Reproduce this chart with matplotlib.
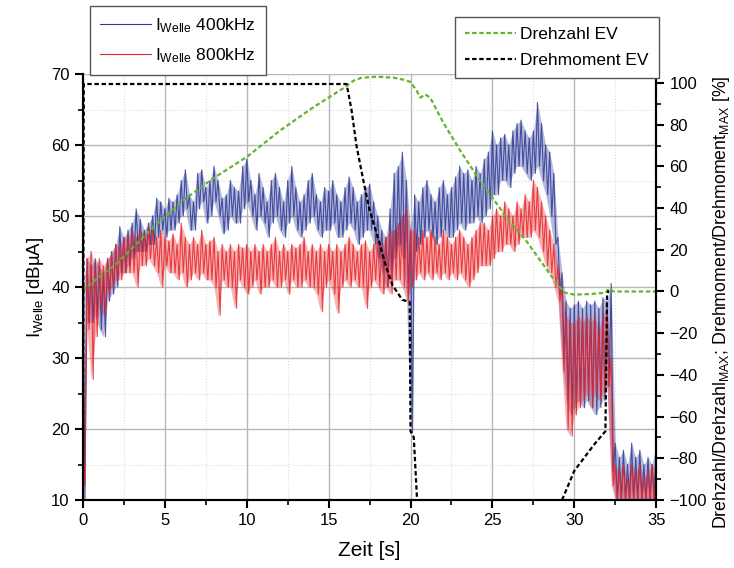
import matplotlib
matplotlib.use('Agg')
import numpy as np
import matplotlib.pyplot as plt
from matplotlib.ticker import MultipleLocator

plt.rcParams['font.family'] = ['Liberation Sans', 'DejaVu Sans']
plt.rcParams['mathtext.default'] = 'regular'

# time bins (s), each bin holds the min / max
t = np.arange(0, 35.01, 0.25)

# I_Welle 400kHz, per-bin max and min [dBuA]
blue_hi = [40, 44, 43, 44, 43, 42, 44, 45, 46, 48.5, 47, 48, 49, 51, 49.5, 48,
           49, 50, 52.5, 52, 51, 52.5, 52, 53, 55, 56.5, 53, 52, 56, 56.5, 54, 55,
           57, 55, 52.5, 53, 55, 54, 53.5, 57, 58, 55, 53, 56, 54, 52, 55, 56,
           54, 52, 55, 57, 54, 52, 53, 55, 56, 53, 52, 54, 53.5, 55, 53, 52,
           54, 55.5, 54, 52, 53, 54, 54.5, 52, 50, 48, 47, 51, 56, 57, 59, 55,
           48, 53, 52, 54, 55, 53, 52, 54, 55, 53, 54, 55.5, 57, 56, 56.5, 55,
           57, 56, 58, 59, 62, 60, 61, 61.5, 60, 62, 63, 63.5, 62, 61, 62, 66,
           63, 60, 59, 56, 47, 42, 38, 37, 37.5, 38, 37, 38, 37.5, 38, 37, 38.5,
           38, 40.5, 18, 16, 17, 15, 18, 16, 17, 15, 16, 15, 18]
blue_lo = [10, 35, 35, 36, 34, 33, 38, 39, 40, 42, 42, 43, 44, 45, 45, 45,
           46, 46, 47, 48, 47, 48, 48, 49, 50, 51, 48, 48, 51, 52, 49, 50,
           52, 50, 47.5, 48, 50, 49, 49, 51, 52, 50, 48, 50, 49, 47, 49, 50,
           48, 47, 49, 50, 48, 47, 48, 49, 50, 48, 47, 48, 48, 49, 47, 47,
           48, 49, 48, 46, 47, 48, 48, 46, 44, 42, 40, 41, 44, 46, 44, 39,
           19.5, 45, 46, 47, 48, 47, 46, 47, 48, 47, 47, 48, 49, 48, 49, 49,
           50, 49, 50, 51, 53, 53, 55, 55, 54, 56, 57, 57, 56, 55, 56, 57,
           55, 53, 50, 46, 39, 30, 24, 22, 23, 24, 23, 24, 23, 22, 23, 24,
           26, 14, 10, 10, 10, 10, 10, 10, 10, 10, 10, 10, 11]

# I_Welle 800kHz, per-bin max and min [dBuA]
red_hi = [17, 44, 45, 43, 44, 43, 44, 44.5, 46, 46, 47, 47, 48, 47, 48, 47.5,
          48.5, 48, 47, 48, 47, 46.5, 47.5, 46, 49, 47, 46, 47, 46, 48, 46, 46.5,
          47, 45, 46, 45, 46, 45, 46, 45.5, 46, 45, 46, 45, 46, 45, 46, 47,
          45, 46, 45, 46, 45.5, 46, 47, 45, 46, 45, 46, 45, 46, 45, 46, 45,
          46, 47, 46, 45, 46, 46.5, 45, 46, 47, 46, 47, 48, 48, 49, 50, 51,
          48, 48, 47, 48, 47, 48, 47, 46, 48, 47, 46, 47, 48, 47, 46, 47,
          48, 49, 49, 48, 50, 51, 50, 52, 51, 50, 52, 51, 53, 52, 55, 54,
          52, 50, 48, 46, 43, 40, 36, 35, 35, 36, 35, 36, 35, 36, 34, 36,
          37, 30, 15, 14, 15, 13, 15, 14, 15, 13, 14, 15, 14]
red_lo = [12, 34, 27, 33, 37, 36, 39, 40, 41, 41, 42, 42, 42, 40, 43, 43,
          44, 43, 42, 40, 43, 42, 42, 41, 42, 40, 41, 42, 41, 42, 41, 41,
          40, 36, 41, 40, 40, 37, 41, 40, 39, 40, 41, 39, 40, 40, 41, 40,
          40, 41, 39, 41, 40, 40, 41, 40, 40, 39, 36.5, 40, 41, 39, 36.3, 40,
          41, 40, 41, 40, 40, 37, 40, 41, 40, 39, 40, 39, 41, 41, 40, 38,
          40, 41, 42, 41, 42, 41, 42, 41, 42, 41, 42, 41, 42, 41, 40, 41,
          42, 43, 43, 43, 44, 45, 45, 46, 46, 45, 46, 47, 47, 47, 48, 47,
          45, 43, 42, 40, 38, 28, 20, 19, 22, 23, 24, 25, 23, 25, 24, 25,
          26, 12, 10, 10, 10, 10, 10, 10, 10, 10, 10, 10, 10]

# Drehzahl EV [%]
dz_t = [0, 0.5, 2, 4, 6, 8, 10, 12, 14, 16, 16.5, 17, 18, 19, 19.6, 20, 20.4,
        20.6, 20.9, 21.2, 22, 23, 24, 25, 26, 27, 28, 29, 29.4, 30, 31, 31.9,
        32.1, 32.4, 35]
dz_v = [0, 4, 13, 28.5, 43, 54.5, 64.5, 77, 88, 98, 101, 102.5, 103, 102.5,
        101.5, 100.5, 96, 93, 94.5, 93, 81, 68, 56, 45, 34, 25, 14, 3, -0.5,
        -1.5, -1.2, -0.6, 1.3, 0, 0]

# Drehmoment EV [%]
dm_t = [0, 0.05, 16.1, 16.4, 16.7, 17.1, 17.5, 18.1, 18.5, 18.9, 19.5, 19.95,
        20.0, 20.2, 20.4, np.nan, 29.25, 30.0, 31.2, 31.9, 32.0, 32.1]
dm_v = [-100, 99.5, 99.5, 87, 70, 54, 39, 23.5, 12, 3, -4, -5,
        -67, -70, -100, np.nan, -100, -86, -73.5, -67, -1.5, 0.5]

BLUE = '#2e3a96'
RED = '#e8262a'
GREEN = '#62b52f'


def minmax_trace(hi, lo):
    # draw each bin as max then min, half a bin apart
    x = np.column_stack([t, t + 0.125]).ravel()
    y = np.column_stack([hi, lo]).ravel()
    return x, y


fig = plt.figure(figsize=(7.34, 5.68), dpi=100)
ax = fig.add_axes([0.113, 0.1197, 0.781, 0.75])
ax2 = ax.twinx()

xb, yb = minmax_trace(blue_hi, blue_lo)
xr, yr = minmax_trace(red_hi, red_lo)
ax.fill_between(t, blue_lo, blue_hi, color=BLUE, alpha=0.35, lw=0)
l1, = ax.plot(xb, yb, color=BLUE, lw=0.8, alpha=0.85, label='I$_{Welle}$ 400kHz')
ax.fill_between(t, red_lo, red_hi, color=RED, alpha=0.35, lw=0)
l2, = ax.plot(xr, yr, color=RED, lw=0.8, alpha=0.85, label='I$_{Welle}$ 800kHz')

l3, = ax2.plot(dz_t, dz_v, color=GREEN, lw=1.6, ls=(0, (2, 1.2)), label='Drehzahl EV')
l4, = ax2.plot(dm_t, dm_v, color='black', lw=1.6, ls=(0, (2, 1.2)), label='Drehmoment EV')

ax.set_xlim(0, 35)
ax.set_ylim(10, 70)
ax2.set_ylim(-100, 104.3)

ax.xaxis.set_major_locator(MultipleLocator(5))
ax.xaxis.set_minor_locator(MultipleLocator(2.5))
ax.yaxis.set_major_locator(MultipleLocator(10))
ax.yaxis.set_minor_locator(MultipleLocator(5))
ax2.yaxis.set_major_locator(MultipleLocator(20))
ax2.yaxis.set_minor_locator(MultipleLocator(10))

ax.grid(which='major', color='#b8b8b8', lw=1.0)
ax.grid(which='minor', color='#dcdcdc', lw=0.8, ls=':')
ax.set_axisbelow(True)

for a in (ax, ax2):
    a.spines['top'].set_visible(False)
    for s in ('left', 'right', 'bottom'):
        a.spines[s].set_linewidth(1.5)
    a.tick_params(which='major', direction='out', length=6, width=1.5, labelsize=12)
    a.tick_params(which='minor', direction='out', length=3.5, width=1.2)

ax.set_xlabel('Zeit [s]', fontsize=15, labelpad=9)
ax.set_ylabel('I$_{Welle}$ [dBµA]', fontsize=13.5)
ax2.set_ylabel('Drehzahl/Drehzahl$_{MAX}$; Drehmoment/Drehmoment$_{MAX}$ [%]', fontsize=12.8)
ax2.yaxis.set_label_coords(1.095, 0.465)

leg1 = ax2.legend(handles=[l1, l2], loc='upper left', bbox_to_anchor=(0.012, 1.16),
                  fontsize=12.5, handlelength=2.9, handletextpad=0.25, labelspacing=0.65,
                  borderpad=0.6, fancybox=False, edgecolor='#555555',
                  framealpha=1, borderaxespad=0)
leg1.get_frame().set_linewidth(1.0)
for h in leg1.get_lines():
    h.set_alpha(1)
ax2.add_artist(leg1)
leg2 = ax2.legend(handles=[l3, l4], loc='upper right', bbox_to_anchor=(1.005, 1.134),
                  fontsize=12.5, handlelength=2.9, handletextpad=0.25, labelspacing=0.6,
                  borderpad=0.6, fancybox=False, edgecolor='#555555',
                  framealpha=1, borderaxespad=0)
leg2.get_frame().set_linewidth(1.0)

fig.savefig('out.png', dpi=100)
